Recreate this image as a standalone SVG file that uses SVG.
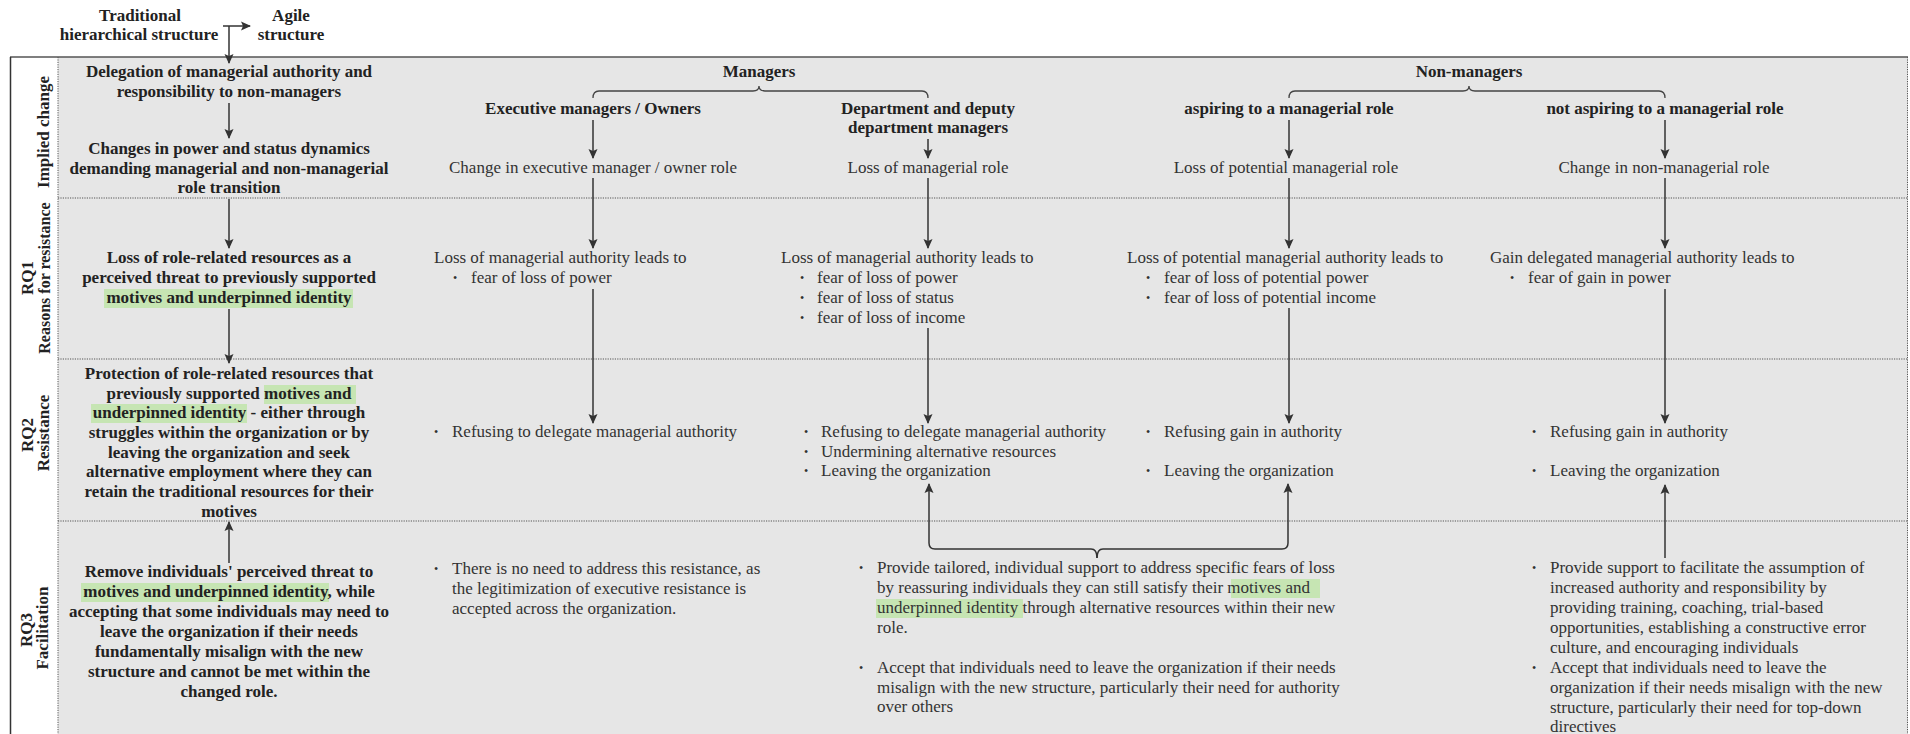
<svg xmlns="http://www.w3.org/2000/svg" width="1910" height="734" viewBox="0 0 1910 734">
<defs>
<style>
.b{font-family:"Liberation Serif","Times New Roman",serif;font-weight:bold;font-size:17px;fill:#222}
.r{font-family:"Liberation Serif","Times New Roman",serif;font-size:17px;fill:#333}
.c{text-anchor:middle}
.bu{font-family:"Liberation Serif",serif;font-size:12px;fill:#333}
.hl{fill:#c6e5b3}
.sep{stroke:#555;stroke-width:1;stroke-dasharray:1.2 1.2;fill:none}
.ar{stroke:#333;stroke-width:1.5;fill:none;marker-end:url(#ah)}
.br{stroke:#444;stroke-width:1.3;fill:none}
</style>
<marker id="ah" viewBox="0 0 10 10" refX="9" refY="5" markerWidth="10" markerHeight="10" markerUnits="userSpaceOnUse" orient="auto">
<path d="M0,0.5 L10,5 L0,9.5 L2,5 z" fill="#333"/>
</marker>
</defs>
<rect x="0" y="0" width="1910" height="734" fill="#fff"/>
<rect x="58" y="57" width="1850" height="677" fill="#e6e6e6"/>

<g id="frame">
<line x1="10" y1="57" x2="1908" y2="57" stroke="#555" stroke-width="1.6"/>
<line x1="10.5" y1="57" x2="10.5" y2="734" stroke="#333" stroke-width="1.5"/>
<line class="sep" x1="1907.5" y1="57" x2="1907.5" y2="734"/>
<line class="sep" x1="58" y1="57" x2="58" y2="734"/>
<line class="sep" x1="58" y1="198" x2="1907" y2="198"/>
<line class="sep" x1="58" y1="359" x2="1907" y2="359"/>
<line class="sep" x1="58" y1="521" x2="1907" y2="521"/>
</g>

<g id="row-labels">
<text class="b c" transform="translate(49,132) rotate(-90)">Implied change</text>
<text class="b c" transform="translate(33,278) rotate(-90)">RQ1</text>
<text class="b c" transform="translate(50,278) rotate(-90)" style="font-size:16px">Reasons for resistance</text>
<text class="b c" transform="translate(33,435) rotate(-90)">RQ2</text>
<text class="b c" transform="translate(49,433) rotate(-90)">Resistance</text>
<text class="b c" transform="translate(32,630) rotate(-90)">RQ3</text>
<text class="b c" transform="translate(48,628) rotate(-90)">Facilitation</text>
</g>

<g id="title-traditional">
<text class="b c" x="140" y="21">Traditional</text>
<text class="b c" x="139" y="40">hierarchical structure</text>
</g>
<g id="title-agile">
<text class="b c" x="291" y="21">Agile</text>
<text class="b c" x="291" y="40">structure</text>
</g>

<g id="n-delegation">
<text class="b c" x="229" y="77">Delegation of managerial authority and</text>
<text class="b c" x="229" y="97">responsibility to non-managers</text>
</g>
<g id="n-changes">
<text class="b c" x="229" y="154">Changes in power and status dynamics</text>
<text class="b c" x="229" y="174">demanding managerial and non-managerial</text>
<text class="b c" x="229" y="193">role transition</text>
</g>
<g id="n-loss-resources">
<rect class="hl" x="104" y="289" width="249" height="19"/>
<text class="b c" x="229" y="263">Loss of role-related resources as a</text>
<text class="b c" x="229" y="283">perceived threat to previously supported</text>
<text class="b c" x="229" y="303">motives and underpinned identity</text>
</g>
<g id="n-protection">
<rect class="hl" x="264" y="385" width="92" height="19"/>
<rect class="hl" x="91" y="404" width="156" height="19"/>
<text class="b c" x="229" y="379">Protection of role-related resources that</text>
<text class="b c" x="229" y="399">previously supported motives and</text>
<text class="b c" x="229" y="418">underpinned identity - either through</text>
<text class="b c" x="229" y="438">struggles within the organization or by</text>
<text class="b c" x="229" y="458">leaving the organization and seek</text>
<text class="b c" x="229" y="477">alternative employment where they can</text>
<text class="b c" x="229" y="497">retain the traditional resources for their</text>
<text class="b c" x="229" y="517">motives</text>
</g>
<g id="n-remove">
<rect class="hl" x="81" y="583" width="248" height="19"/>
<text class="b c" x="229" y="577">Remove individuals' perceived threat to</text>
<text class="b c" x="229" y="597">motives and underpinned identity, while</text>
<text class="b c" x="229" y="617">accepting that some individuals may need to</text>
<text class="b c" x="229" y="637">leave the organization if their needs</text>
<text class="b c" x="229" y="657">fundamentally misalign with the new</text>
<text class="b c" x="229" y="677">structure and cannot be met within the</text>
<text class="b c" x="229" y="697">changed role.</text>
</g>

<g id="h-managers"><text class="b c" x="759" y="77">Managers</text></g>
<g id="h-nonmanagers"><text class="b c" x="1469" y="77">Non-managers</text></g>

<g id="h-executive"><text class="b c" x="593" y="114">Executive managers / Owners</text></g>
<g id="h-department">
<text class="b c" x="928" y="114">Department and deputy</text>
<text class="b c" x="928" y="133">department managers</text>
</g>
<g id="h-aspiring"><text class="b c" x="1289" y="114">aspiring to a managerial role</text></g>
<g id="h-notaspiring"><text class="b c" x="1665" y="114">not aspiring to a managerial role</text></g>

<g id="c1-change"><text class="r c" x="593" y="173">Change in executive manager / owner role</text></g>
<g id="c2-change"><text class="r c" x="928" y="173">Loss of managerial role</text></g>
<g id="c3-change"><text class="r c" x="1286" y="173">Loss of potential managerial role</text></g>
<g id="c4-change"><text class="r c" x="1664" y="173">Change in non-managerial role</text></g>

<g id="c1-reasons">
<text class="r" x="434" y="263">Loss of managerial authority leads to</text>
<text class="bu" x="453" y="282">•</text><text class="r" x="471" y="283">fear of loss of power</text>
</g>
<g id="c2-reasons">
<text class="r" x="781" y="263">Loss of managerial authority leads to</text>
<text class="bu" x="800" y="282">•</text><text class="r" x="817" y="283">fear of loss of power</text>
<text class="bu" x="800" y="302">•</text><text class="r" x="817" y="303">fear of loss of status</text>
<text class="bu" x="800" y="322">•</text><text class="r" x="817" y="323">fear of loss of income</text>
</g>
<g id="c3-reasons">
<text class="r" x="1127" y="263">Loss of potential managerial authority leads to</text>
<text class="bu" x="1146" y="282">•</text><text class="r" x="1164" y="283">fear of loss of potential power</text>
<text class="bu" x="1146" y="302">•</text><text class="r" x="1164" y="303">fear of loss of potential income</text>
</g>
<g id="c4-reasons">
<text class="r" x="1490" y="263">Gain delegated managerial authority leads to</text>
<text class="bu" x="1510" y="282">•</text><text class="r" x="1528" y="283">fear of gain in power</text>
</g>

<g id="c1-resistance">
<text class="bu" x="434" y="436">•</text><text class="r" x="452" y="437">Refusing to delegate managerial authority</text>
</g>
<g id="c2-resistance">
<text class="bu" x="804" y="436">•</text><text class="r" x="821" y="437">Refusing to delegate managerial authority</text>
<text class="bu" x="804" y="456">•</text><text class="r" x="821" y="457">Undermining alternative resources</text>
<text class="bu" x="804" y="475">•</text><text class="r" x="821" y="476">Leaving the organization</text>
</g>
<g id="c3-resistance">
<text class="bu" x="1146" y="436">•</text><text class="r" x="1164" y="437">Refusing gain in authority</text>
<text class="bu" x="1146" y="475">•</text><text class="r" x="1164" y="476">Leaving the organization</text>
</g>
<g id="c4-resistance">
<text class="bu" x="1532" y="436">•</text><text class="r" x="1550" y="437">Refusing gain in authority</text>
<text class="bu" x="1532" y="475">•</text><text class="r" x="1550" y="476">Leaving the organization</text>
</g>

<g id="c1-facilitation">
<text class="bu" x="434" y="573">•</text>
<text class="r" x="452" y="574">There is no need to address this resistance, as</text>
<text class="r" x="452" y="594">the legitimization of executive resistance is</text>
<text class="r" x="452" y="614">accepted across the organization.</text>
</g>
<g id="c23-facilitation">
<rect class="hl" x="1231" y="579" width="89" height="19"/>
<rect class="hl" x="876" y="599" width="147" height="19"/>
<text class="bu" x="859" y="572">•</text>
<text class="r" x="877" y="573">Provide tailored, individual support to address specific fears of loss</text>
<text class="r" x="877" y="593">by reassuring individuals they can still satisfy their motives and</text>
<text class="r" x="877" y="613">underpinned identity through alternative resources within their new</text>
<text class="r" x="877" y="633">role.</text>
<text class="bu" x="859" y="672">•</text>
<text class="r" x="877" y="673">Accept that individuals need to leave the organization if their needs</text>
<text class="r" x="877" y="693">misalign with the new structure, particularly their need for authority</text>
<text class="r" x="877" y="712">over others</text>
</g>
<g id="c4-facilitation">
<text class="bu" x="1532" y="572">•</text>
<text class="r" x="1550" y="573">Provide support to facilitate the assumption of</text>
<text class="r" x="1550" y="593">increased authority and responsibility by</text>
<text class="r" x="1550" y="613">providing training, coaching, trial-based</text>
<text class="r" x="1550" y="633">opportunities, establishing a constructive error</text>
<text class="r" x="1550" y="653">culture, and encouraging individuals</text>
<text class="bu" x="1532" y="672">•</text>
<text class="r" x="1550" y="673">Accept that individuals need to leave the</text>
<text class="r" x="1550" y="693">organization if their needs misalign with the new</text>
<text class="r" x="1550" y="713">structure, particularly their need for top-down</text>
<text class="r" x="1550" y="732">directives</text>
</g>

<g id="connectors">
<line x1="223" y1="26" x2="250" y2="26" class="ar"/>
<line x1="229" y1="26" x2="229" y2="63" class="ar"/>
<line x1="229" y1="103" x2="229" y2="138" class="ar"/>
<line x1="229" y1="199" x2="229" y2="248" class="ar"/>
<line x1="229" y1="309" x2="229" y2="363" class="ar"/>
<line x1="229" y1="563" x2="229" y2="522" class="ar"/>
<path class="br" d="M593,98 Q593,91 599,91 L753,91 Q759,91 759,86 Q759,91 765,91 L922,91 Q928,91 928,98"/>
<path class="br" d="M1289,98 Q1289,91 1295,91 L1463,91 Q1469,91 1469,86 Q1469,91 1475,91 L1659,91 Q1665,91 1665,98"/>
<line x1="593" y1="120" x2="593" y2="158" class="ar"/>
<line x1="928" y1="139" x2="928" y2="158" class="ar"/>
<line x1="1289" y1="120" x2="1289" y2="158" class="ar"/>
<line x1="1665" y1="120" x2="1665" y2="158" class="ar"/>
<line x1="593" y1="178" x2="593" y2="248" class="ar"/>
<line x1="928" y1="178" x2="928" y2="248" class="ar"/>
<line x1="1289" y1="178" x2="1289" y2="248" class="ar"/>
<line x1="1665" y1="178" x2="1665" y2="248" class="ar"/>
<line x1="593" y1="289" x2="593" y2="423" class="ar"/>
<line x1="928" y1="328" x2="928" y2="423" class="ar"/>
<line x1="1289" y1="308" x2="1289" y2="423" class="ar"/>
<line x1="1665" y1="289" x2="1665" y2="423" class="ar"/>
<path class="ar" d="M1097,558 Q1097,549 1091,549 L935,549 Q929,549 929,543 L929,484"/>
<path class="ar" d="M1097,558 Q1097,549 1103,549 L1282,549 Q1288,549 1288,543 L1288,484"/>
<line x1="1665" y1="558" x2="1665" y2="485" class="ar"/>
</g>
</svg>
